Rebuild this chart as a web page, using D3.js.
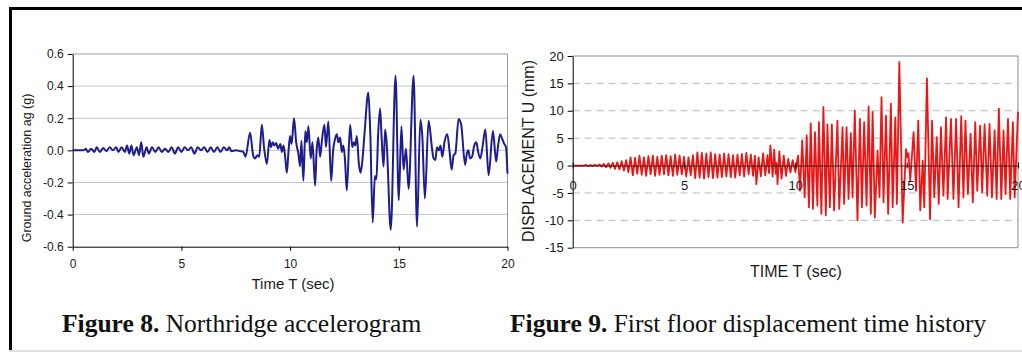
<!DOCTYPE html>
<html>
<head>
<meta charset="utf-8">
<script src="https://cdn.jsdelivr.net/npm/d3@7"></script>
<style>
  html, body { margin: 0; padding: 0; background: #fff; }
  svg { display: block; }
  .tick text { fill: #1a1a1a; }
</style>
</head>
<body>
<div id="chart"></div>
<script>
// shared time axis ticks
const timeTicks = [0, 5, 10, 15, 20];

// Figure 8: Northridge ground acceleration, [time s, ag g]
const accelTicks = [-0.6, -0.4, -0.2, 0.0, 0.2, 0.4, 0.6];
const accelSeries = [
  [0,0],[0.5,0],[0.6,0.01],[0.7,-0.01],[0.85,0.01],[1.0,-0.01],[1.1,0.02],[1.25,-0.01],[1.4,0.015],[1.55,-0.005],
  [1.7,0.02],[1.85,0.0],[2.0,0.02],[2.1,-0.01],[2.25,0.02],[2.4,-0.01],[2.5,0.03],[2.6,-0.02],[2.7,0.03],[2.8,-0.03],
  [2.95,0.02],[3.05,-0.03],[3.15,0.05],[3.25,-0.04],[3.4,0.02],[3.5,-0.02],[3.65,0.02],[3.8,-0.01],[3.95,0.02],[4.1,-0.01],
  [4.25,0.01],[4.4,-0.01],[4.55,0.02],[4.7,-0.02],[4.85,0.02],[5.0,-0.01],[5.15,0.02],[5.3,0.0],[5.45,0.02],[5.6,-0.02],
  [5.75,0.02],[5.9,0.0],[6.05,0.02],[6.2,-0.01],[6.35,0.02],[6.5,-0.01],[6.65,0.02],[6.8,-0.01],[6.95,0.02],[7.1,0.0],
  [7.2,0.02],[7.3,-0.005],[7.5,0.0],[7.7,-0.005],[7.85,-0.01],[7.95,-0.04],[8.16,0.11],[8.3,-0.03],[8.39,-0.05],[8.5,-0.03],
  [8.58,-0.04],[8.70,0.16],[8.8,0.02],[8.93,-0.085],[9.05,0.065],[9.12,0.02],[9.2,0.05],[9.28,0.03],[9.36,0.045],[9.45,0.01],
  [9.55,0.04],[9.62,-0.01],[9.7,0.03],[9.78,-0.05],[9.85,-0.14],[9.93,0.0],[10.0,0.09],[10.07,0.04],[10.18,0.2],[10.28,0.05],
  [10.38,-0.02],[10.46,-0.1],[10.52,0.06],[10.61,-0.19],[10.7,0.12],[10.77,0.05],[10.84,0.15],[10.95,-0.05],[11.03,0.05],[11.15,-0.22],
  [11.22,0.0],[11.3,0.08],[11.38,-0.04],[11.47,0.07],[11.58,0.16],[11.65,0.02],[11.76,0.18],[11.89,-0.19],[11.98,0.0],[12.05,0.06],
  [12.15,0.1],[12.22,0.05],[12.3,0.08],[12.38,-0.01],[12.45,0.03],[12.52,-0.05],[12.61,-0.25],[12.76,0.16],[12.86,0.02],[12.93,0.05],
  [13.0,0.03],[13.07,0.09],[13.16,-0.08],[13.24,-0.14],[13.32,-0.07],[13.42,0.1],[13.6,0.36],[13.69,0.1],[13.8,-0.45],[13.9,-0.16],
  [13.97,-0.18],[14.05,0.1],[14.14,0.26],[14.22,0.05],[14.3,-0.1],[14.37,0.13],[14.44,0.05],[14.63,-0.495],[14.85,0.465],[15.0,-0.31],
  [15.12,0.15],[15.22,-0.12],[15.33,0.01],[15.45,-0.24],[15.68,0.465],[15.84,-0.475],[15.99,0.19],[16.08,0.09],[16.2,-0.3],[16.37,0.185],
  [16.53,0.01],[16.6,-0.05],[16.68,-0.06],[16.76,0.02],[16.84,0.0],[16.92,0.03],[17.0,-0.04],[17.1,0.05],[17.23,0.1],[17.33,0.0],
  [17.43,-0.12],[17.52,-0.03],[17.6,-0.02],[17.75,0.195],[17.87,0.16],[18.05,-0.09],[18.13,-0.02],[18.2,0.0],[18.28,-0.05],[18.37,-0.04],
  [18.47,0.03],[18.57,0.05],[18.65,-0.01],[18.75,-0.05],[18.85,0.02],[18.98,0.13],[19.13,-0.155],[19.33,0.12],[19.48,-0.07],[19.56,0.02],
  [19.66,0.1],[19.76,0.07],[19.85,0.04],[19.93,0.02],[20.0,-0.145]
];

// Figure 9: first floor displacement, [time s, U mm]
const dispTicks = [-15, -10, -5, 0, 5, 10, 15, 20];
const dispGrid = [-10, -5, 5, 10, 15];
const dispSeries = [
  [0,0],[0.5,0],[0.6,0.1],[0.7,-0.1],[0.8,0.1],[0.9,-0.1],[1.0,0.15],[1.1,-0.1],[1.2,0.2],[1.3,-0.2],
  [1.4,0.3],[1.5,-0.3],[1.6,0.4],[1.7,-0.4],[1.8,0.5],[1.9,-0.6],[2.0,0.6],[2.1,-0.7],[2.2,0.8],[2.3,-0.9],
  [2.4,1.0],[2.5,-1.2],[2.6,1.5],[2.7,-1.8],[2.8,1.4],[2.9,-1.5],[3.0,1.8],[3.1,-1.7],[3.2,1.5],[3.3,-1.9],
  [3.4,1.7],[3.5,-1.6],[3.6,1.8],[3.7,-1.9],[3.8,1.6],[3.9,-1.7],[4.0,1.8],[4.1,-1.6],[4.2,1.9],[4.3,-1.8],
  [4.4,1.7],[4.5,-1.9],[4.6,2.0],[4.7,-1.7],[4.8,1.8],[4.9,-1.6],[5.0,1.6],[5.1,-2.0],[5.2,1.5],[5.3,-1.8],
  [5.4,1.9],[5.5,-2.3],[5.6,2.4],[5.7,-2.2],[5.8,2.3],[5.9,-2.4],[6.0,2.2],[6.1,-2.1],[6.2,2.4],[6.3,-2.3],
  [6.4,2.1],[6.5,-2.2],[6.6,2.0],[6.7,-2.1],[6.8,2.2],[6.9,-2.0],[7.0,2.1],[7.1,-2.1],[7.2,1.9],[7.3,-2.2],
  [7.4,2.0],[7.5,-1.8],[7.6,2.1],[7.7,-2.0],[7.8,2.3],[7.9,-1.6],[8.0,2.0],[8.1,-1.9],[8.18,1.8],[8.25,-3.4],
  [8.35,1.5],[8.45,-2.0],[8.55,2.2],[8.65,-1.8],[8.75,1.9],[8.82,-1.4],[8.88,3.7],[8.98,-2.0],[9.05,2.9],[9.12,-1.5],
  [9.16,0.5],[9.2,-3.4],[9.28,2.6],[9.38,-2.4],[9.48,1.8],[9.58,-1.9],[9.68,1.2],[9.78,-1.3],[9.88,1.0],[10.0,-1.2],
  [10.12,1.8],[10.21,-4.6],[10.31,4.6],[10.42,-5.8],[10.51,5.5],[10.61,-7.6],[10.69,7.7],[10.79,-7.9],[10.88,6.1],[10.99,-7.3],
  [11.06,7.9],[11.17,-8.8],[11.26,10.7],[11.37,-9.1],[11.44,7.5],[11.55,-7.6],[11.64,7.5],[11.74,-8.2],[11.89,8.2],[11.97,-7.9],
  [12.12,7.0],[12.19,-7.0],[12.30,7.0],[12.39,-6.1],[12.49,5.9],[12.57,-5.8],[12.67,10.0],[12.79,-10.0],[12.90,8.5],[12.99,-7.6],
  [13.09,7.9],[13.20,-7.3],[13.29,10.8],[13.39,-8.8],[13.47,9.8],[13.57,-9.5],[13.69,2.7],[13.78,-5.8],[13.87,12.5],[13.96,-6.7],
  [14.07,9.1],[14.17,-8.8],[14.29,11.3],[14.37,-7.6],[14.49,8.8],[14.56,-7.0],[14.67,18.9],[14.82,-10.4],[14.97,3.0],[15.04,1.5],
  [15.08,2.2],[15.16,-2.7],[15.31,6.1],[15.42,-4.6],[15.52,8.2],[15.61,-8.2],[15.72,0.9],[15.79,-7.6],[15.91,15.9],[16.05,-9.8],
  [16.14,8.2],[16.24,-5.8],[16.35,5.2],[16.44,-7.0],[16.54,7.0],[16.65,-5.5],[16.77,8.8],[16.84,-6.1],[16.99,8.5],[17.10,-6.1],
  [17.22,8.5],[17.33,-7.6],[17.45,9.0],[17.55,-5.8],[17.64,8.2],[17.75,-5.2],[17.87,5.8],[17.97,-6.7],[18.08,7.9],[18.17,-4.6],
  [18.30,7.3],[18.39,-4.9],[18.50,7.5],[18.62,-5.5],[18.72,7.6],[18.83,-5.8],[18.95,6.4],[19.04,-6.1],[19.14,10.4],[19.25,-6.1],
  [19.35,6.4],[19.44,-5.2],[19.55,8.5],[19.65,-6.1],[19.77,7.9],[19.85,-5.8],[20.0,9.8]
];

const W = 1022, H = 354;
const svg = d3.select("#chart").append("svg")
    .attr("width", W)
    .attr("height", H)
    .style("font-family", "'Liberation Sans', Arial, sans-serif");

// outer frame of the page figure
svg.append("line").attr("x1", 10).attr("x2", W).attr("y1", 8.5).attr("y2", 8.5)
    .attr("stroke", "#000").attr("stroke-width", 3);
svg.append("line").attr("x1", 10.5).attr("x2", 10.5).attr("y1", 7).attr("y2", 350)
    .attr("stroke", "#000").attr("stroke-width", 3);
svg.append("line").attr("x1", 9).attr("x2", W).attr("y1", 351).attr("y2", 351)
    .attr("stroke", "#d4d4d4").attr("stroke-width", 1.5);

// ---------- Figure 8 ----------
const x1 = d3.scaleLinear().domain([0, 20]).range([72.7, 507.5]);
const y1 = d3.scaleLinear().domain([-0.6, 0.6]).range([246.7, 54]);

svg.append("g").selectAll("line")
    .data(accelTicks.filter(d => d > -0.6 && d < 0.6))
    .enter().append("line")
    .attr("x1", x1(0)).attr("x2", x1(20))
    .attr("y1", d => y1(d)).attr("y2", d => y1(d))
    .attr("stroke", "#c6c6c6").attr("stroke-width", 1);

// plot area border (top / right)
svg.append("path")
    .attr("d", `M${x1(0)},${y1(0.6)}H${x1(20)}V${y1(-0.6)}`)
    .attr("fill", "none").attr("stroke", "#9a9a9a").attr("stroke-width", 1);

svg.append("path")
    .datum(accelSeries)
    .attr("fill", "none")
    .attr("stroke", "#1d1d8e")
    .attr("stroke-width", 2)
    .attr("stroke-linejoin", "round")
    .attr("d", d3.line().x(d => x1(d[0])).y(d => y1(d[1])).curve(d3.curveMonotoneX));

svg.append("g")
    .attr("transform", `translate(${x1(0)},0)`)
    .call(d3.axisLeft(y1).tickValues(accelTicks).tickFormat(d => d.toFixed(1))
        .tickSize(5).tickSizeOuter(0).tickPadding(4))
    .call(g => g.selectAll("text").attr("font-size", "12px").attr("font-family", null));

svg.append("g")
    .attr("transform", `translate(0,${y1(-0.6)})`)
    .call(d3.axisBottom(x1).tickValues(timeTicks).tickSize(4).tickSizeOuter(0).tickPadding(9))
    .call(g => g.selectAll("text").attr("font-size", "12px").attr("font-family", null));

svg.append("text")
    .attr("transform", "translate(30.5,168) rotate(-90)")
    .attr("text-anchor", "middle")
    .attr("font-size", "12.5px")
    .attr("fill", "#1a1a1a")
    .text("Ground acceleration ag (g)");

svg.append("text")
    .attr("x", 293).attr("y", 289)
    .attr("text-anchor", "middle")
    .attr("font-size", "15px")
    .attr("fill", "#1a1a1a")
    .text("Time T (sec)");

// ---------- Figure 9 ----------
const x2 = d3.scaleLinear().domain([0, 20]).range([572.7, 1018]);
const y2 = d3.scaleLinear().domain([-15, 20]).range([247.7, 56]);

svg.append("g").selectAll("line")
    .data(dispGrid)
    .enter().append("line")
    .attr("x1", x2(0)).attr("x2", x2(20))
    .attr("y1", d => y2(d)).attr("y2", d => y2(d))
    .attr("stroke", "#b8b8b8").attr("stroke-width", 1)
    .attr("stroke-dasharray", "7,5");

svg.append("path")
    .attr("d", `M${x2(0)},${y2(20)}H${x2(20)}V${y2(-15)}H${x2(0)}`)
    .attr("fill", "none").attr("stroke", "#8c8c8c").attr("stroke-width", 1);

svg.append("path")
    .datum(dispSeries)
    .attr("fill", "none")
    .attr("stroke", "#ee1515")
    .attr("stroke-width", 1.8)
    .attr("stroke-linejoin", "round")
    .attr("d", d3.line().x(d => x2(d[0])).y(d => y2(d[1])));

svg.append("g")
    .attr("transform", `translate(${x2(0)},0)`)
    .call(d3.axisLeft(y2).tickValues(dispTicks).tickFormat(d => String(d))
        .tickSize(5).tickSizeOuter(0).tickPadding(4))
    .call(g => g.selectAll("text").attr("font-size", "13px").attr("font-family", null));

svg.append("g")
    .attr("transform", `translate(0,${y2(0)})`)
    .call(d3.axisBottom(x2).tickValues(timeTicks).tickSize(3).tickSizeOuter(0).tickPadding(12))
    .call(g => g.select(".domain").attr("stroke", "#222"))
    .call(g => g.selectAll(".tick line").attr("y1", -3))
    .call(g => g.selectAll("text").attr("font-size", "13px").attr("font-family", null));

svg.append("text")
    .attr("transform", "translate(533.5,151) rotate(-90)")
    .attr("text-anchor", "middle")
    .attr("font-size", "16px")
    .attr("fill", "#1a1a1a")
    .text("DISPLACEMENT U (mm)");

svg.append("text")
    .attr("x", 796).attr("y", 277)
    .attr("text-anchor", "middle")
    .attr("font-size", "16px")
    .attr("fill", "#1a1a1a")
    .text("TIME T (sec)");

// ---------- captions ----------
const captions = [
  { x: 62, label: "Figure 8.", rest: " Northridge accelerogram" },
  { x: 510, label: "Figure 9.", rest: " First floor displacement time history" }
];
captions.forEach(c => {
  const t = svg.append("text")
      .attr("x", c.x).attr("y", 331.5)
      .attr("font-family", "'Liberation Serif', 'Times New Roman', serif")
      .attr("font-size", "25.5px")
      .attr("fill", "#111");
  t.append("tspan").attr("font-weight", "bold").text(c.label);
  t.append("tspan").text(c.rest);
});
</script>
</body>
</html>
